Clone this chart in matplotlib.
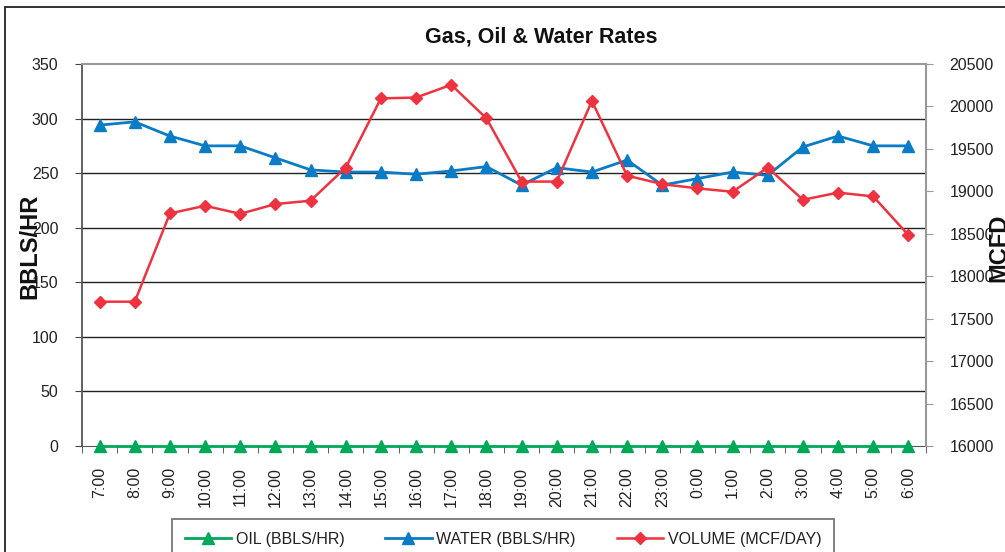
import matplotlib
matplotlib.use("Agg")
import matplotlib.pyplot as plt
from matplotlib.patches import Rectangle
from matplotlib.ticker import FixedLocator

plt.rcParams['font.family'] = ['Liberation Sans', 'DejaVu Sans']

hours = ["7:00", "8:00", "9:00", "10:00", "11:00", "12:00", "13:00", "14:00",
         "15:00", "16:00", "17:00", "18:00", "19:00", "20:00", "21:00", "22:00",
         "23:00", "0:00", "1:00", "2:00", "3:00", "4:00", "5:00", "6:00"]
oil = [0] * 24
water = [294, 297, 284, 275, 275, 264, 253, 251, 251, 249, 252, 256, 239, 255,
         251, 262, 239, 245, 251, 248, 274, 284, 275, 275]
volume = [17700, 17700, 18740, 18830, 18735, 18850, 18890, 19280, 20095, 20105,
          20255, 19860, 19115, 19115, 20065, 19185, 19085, 19035, 18995, 19280,
          18900, 18985, 18940, 18485]

W, H = 1005, 552
fig = plt.figure(figsize=(W / 100, H / 100), dpi=100)

# outer chart border (clipped at right/bottom as in the reference)
fig.patches.append(Rectangle((5 / W, -0.1), 1.2, 1 - 7 / H + 0.1,
                             transform=fig.transFigure, fill=False,
                             edgecolor='#222222', linewidth=1.3))

left, right, top, bottom = 82, 926, 64, 446
ax = fig.add_axes([left / W, 1 - bottom / H, (right - left) / W, (bottom - top) / H])
ax2 = ax.twinx()

x = list(range(len(hours)))
c_oil, c_water, c_vol = '#00A859', '#0A7CC6', '#EE3340'

l_oil, = ax.plot(x, oil, color=c_oil, lw=2.0, marker='^', ms=8.5, clip_on=False, zorder=4,
                 label='OIL (BBLS/HR)')
l_wat, = ax.plot(x, water, color=c_water, lw=2.0, marker='^', ms=8.5, zorder=3,
                 label='WATER (BBLS/HR)')
l_vol, = ax2.plot(x, volume, color=c_vol, lw=1.8, marker='D', ms=6.5, zorder=3,
                  label='VOLUME (MCF/DAY)')

ax.set_xlim(-0.5, len(hours) - 0.5)
ax.set_ylim(0, 350)
ax2.set_ylim(16000, 20500)
ax.set_yticks(range(0, 351, 50))
ax2.set_yticks(range(16000, 20501, 500))

ax.set_xticks(x)
ax.set_xticklabels(hours, rotation=90, fontsize=11.5, color='#222222')
ax.xaxis.set_minor_locator(FixedLocator([i - 0.5 for i in range(len(hours) + 1)]))
ax.tick_params(axis='x', which='major', length=0, pad=15)
ax.tick_params(axis='x', which='minor', length=5, color='#444444', direction='out')
ax.tick_params(axis='y', length=5, color='#444444', labelsize=11.5, pad=12, labelcolor='#222222')
ax2.tick_params(axis='y', length=5, color='#999999', labelsize=11.5, pad=12, labelcolor='#222222')

for yv in range(50, 301, 50):
    ax.axhline(yv, color='#222222', lw=1.0, zorder=1)

ax.spines['top'].set_color('#999999')
ax.spines['top'].set_linewidth(1.5)
ax2.spines['top'].set_visible(False)
ax.spines['left'].set_color('#555555')
ax.spines['left'].set_linewidth(1.3)
ax.spines['bottom'].set_color('#555555')
ax.spines['right'].set_visible(False)
ax2.spines['left'].set_visible(False)
ax2.spines['bottom'].set_visible(False)
ax2.spines['right'].set_color('#999999')
ax2.spines['right'].set_linewidth(1.5)

fig.text(541 / W, 1 - 37 / H, 'Gas, Oil & Water Rates', ha='center', va='center',
         fontsize=15.5, fontweight='bold', color='#111111')
fig.text(30 / W, 1 - 246 / H, 'BBLS/HR', rotation=90, ha='center', va='center',
         fontsize=17, fontweight='bold', color='#111111')
fig.text(999 / W, 1 - 248 / H, 'MCFD', rotation=90, ha='center', va='center',
         fontsize=17, fontweight='bold', color='#111111')

leg = fig.legend(handles=[l_oil, l_wat, l_vol], loc='upper center',
                 bbox_to_anchor=(503 / W, 1 - 519 / H), ncol=3, fontsize=11.5,
                 frameon=True, fancybox=False, handlelength=2.9, handletextpad=0.3,
                 columnspacing=2.55, borderpad=0.8, borderaxespad=0)
leg.get_frame().set_edgecolor('#555555')
leg.get_frame().set_linewidth(1.3)
for t in leg.get_texts():
    t.set_color('#222222')

fig.savefig('out.png', dpi=100)
